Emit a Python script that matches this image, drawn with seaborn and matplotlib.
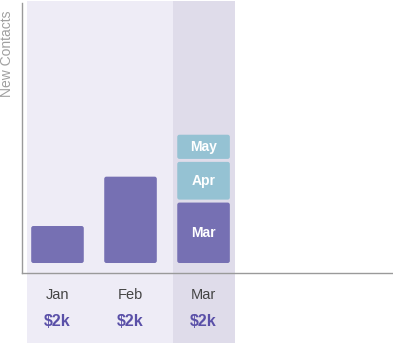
import matplotlib
matplotlib.use("Agg")
import matplotlib.pyplot as plt
import matplotlib.transforms as mtransforms
from matplotlib.patches import Rectangle, FancyBboxPatch
import seaborn as sns
import pandas as pd

# ---- data -------------------------------------------------------------
months = ["Jan", "Feb", "Mar"]
contacts = [1.5, 3.5, 2.45]
forecast_months = ["Apr", "May"]
forecast = [1.65, 1.1]
revenue_labels = ["$2k", "$2k", "$2k"]

# ---- style ------------------------------------------------------------
sns.set_theme(style="white")
plt.rcParams["font.family"] = ["Liberation Sans", "DejaVu Sans"]

purple = "#7670b3"
light_blue = "#95c2d3"
panel = "#eeecf6"
highlight = "#dfdcea"
spine_grey = "#9a9a9a"
money = "#5a50a8"

W, H = 393, 344
fig = plt.figure(figsize=(W / 100, H / 100), dpi=100)
ax = fig.add_axes([21.7 / W, (H - 273) / H, (392.7 - 21.7) / W, 270 / H])
ax.set_facecolor("none")

df = pd.DataFrame({"month": months, "contacts": contacts})
sns.barplot(data=df, x="month", y="contacts", color=purple, saturation=1,
            width=0.72, ax=ax, zorder=3)

# stacked forecast segments on top of the current month
gap = 0.12
cur = len(months) - 1
base = contacts[cur]
seg_centers = [(contacts[cur] / 2, months[cur])]
for m, v in zip(forecast_months, forecast):
    ax.bar(cur, v - gap, bottom=base + gap, width=0.72, color=light_blue, zorder=3)
    seg_centers.append((base + gap + (v - gap) / 2, m))
    base += v

# round the bar corners
for p in list(ax.patches):
    if isinstance(p, Rectangle):
        x0, y0 = p.get_x(), p.get_y()
        w, h = p.get_width(), p.get_height()
        fb = FancyBboxPatch((x0, y0), w, h,
                            boxstyle="round,pad=0,rounding_size=0.03",
                            mutation_aspect=3.0,
                            facecolor=p.get_facecolor(), edgecolor="none",
                            zorder=3)
        p.remove()
        ax.add_patch(fb)

ax.set_xlim(-0.49, 4.59)
ax.set_ylim(-0.405, 10.54)

# column backgrounds spanning plot and label area
blend = mtransforms.blended_transform_factory(ax.transData, ax.transAxes)
ax.add_patch(Rectangle((-0.42, -0.259), 2.85, 1.266, transform=blend,
                       facecolor=panel, edgecolor="none", clip_on=False, zorder=0))
ax.add_patch(Rectangle((1.578, -0.259), 0.852, 1.266, transform=blend,
                       facecolor=highlight, edgecolor="none", clip_on=False, zorder=0.5))

# segment labels
for yc, lab in seg_centers:
    ax.text(cur, yc, lab, ha="center", va="center", color="white",
            fontsize=10, fontweight="bold", zorder=4)

# month and revenue labels under the axis
for i, (m, r) in enumerate(zip(months, revenue_labels)):
    ax.text(i, -0.0815, m, transform=blend, ha="center", va="center",
            fontsize=10.5, color="#444444", clip_on=False)
    ax.text(i, -0.181, r, transform=blend, ha="center", va="center",
            fontsize=11.5, fontweight="bold", color=money, clip_on=False)

ax.set_xticks([])
ax.set_yticks([])
ax.set_xlabel("")
ax.set_ylabel("")
for s in ["top", "right"]:
    ax.spines[s].set_visible(False)
for s in ["left", "bottom"]:
    ax.spines[s].set_color(spine_grey)
    ax.spines[s].set_linewidth(1.0)
    ax.spines[s].set_zorder(5)

fig.text(7 / W, 1 - 54 / H, "New Contacts", rotation=90, ha="center",
         va="center", fontsize=10, color="#a0a0a0")

fig.savefig("out.png", dpi=100, facecolor="white")
